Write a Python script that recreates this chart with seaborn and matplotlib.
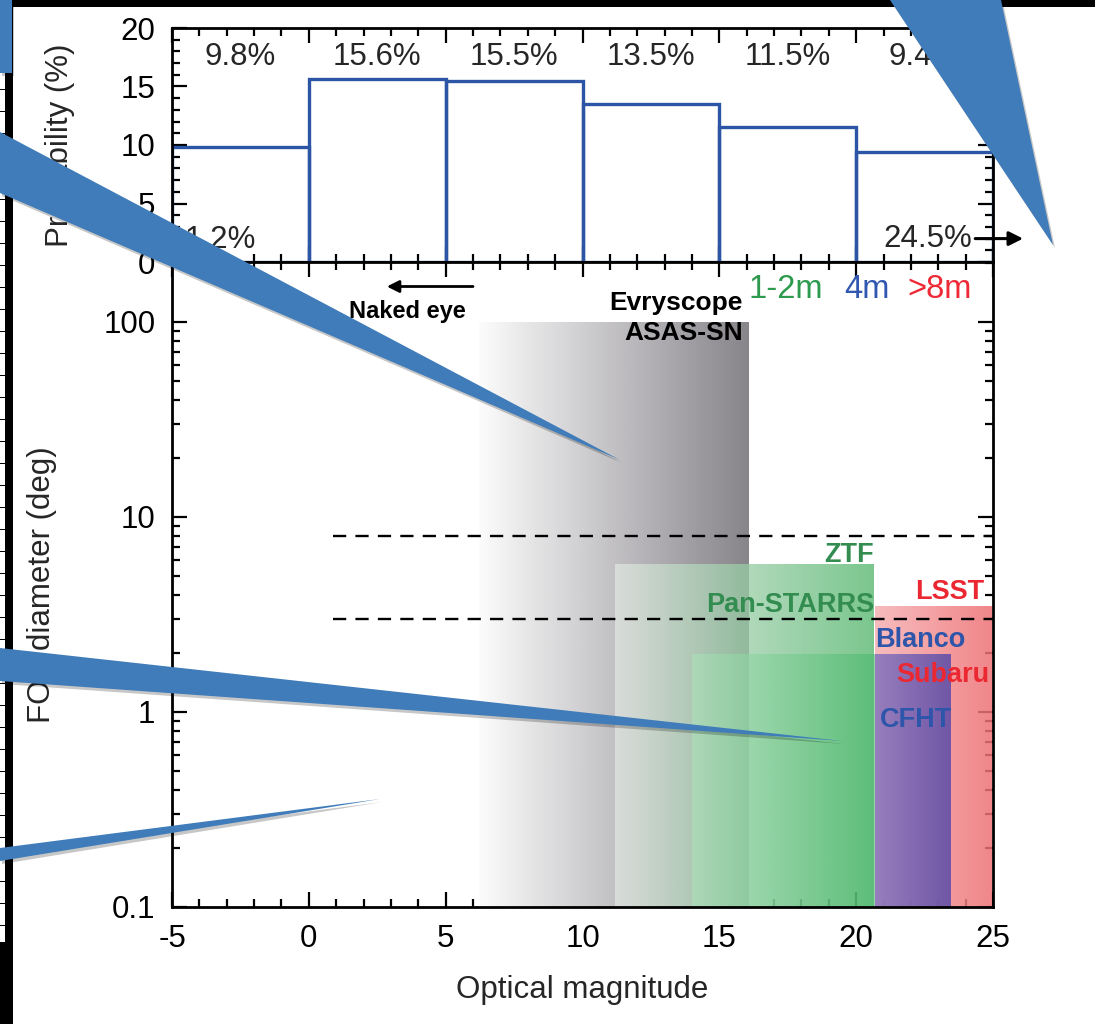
import numpy as np
import matplotlib
matplotlib.use("Agg")
import matplotlib.pyplot as plt
import seaborn as sns
from matplotlib.patches import Polygon, Rectangle
from matplotlib.ticker import MultipleLocator, LogLocator, FixedLocator, FuncFormatter, NullFormatter

# ---------------- data ----------------
# probability of a source falling in each optical-magnitude bin
bin_edges = [-5, 0, 5, 10, 15, 20, 25]
bin_probs = [9.8, 15.6, 15.5, 13.5, 11.5, 9.4]
bin_labels = ["9.8%", "15.6%", "15.5%", "13.5%", "11.5%", "9.4%"]
below_label = "1.2%"
above_label = "24.5%"

# survey coverage blocks (limiting magnitude range, FOV diameter in deg)
block_names = ["Evryscope/ASAS-SN", "ZTF", "Pan-STARRS", "LSST/Subaru", "Blanco/CFHT"]
block_mag_lo = [6.2, 11.2, 14.0, 20.7, 20.7]
block_mag_hi = [16.1, 20.7, 20.7, 25.0, 23.5]
block_fov_lo = [0.1, 0.1, 0.1, 0.1, 0.1]
block_fov_hi = [100.0, 5.8, 2.0, 3.5, 2.0]
block_color_lo = [(252, 252, 252), (226, 230, 226), (172, 226, 186), (246, 176, 178), (142, 122, 190)]
block_color_hi = [(135, 132, 138), (78, 180, 104), (74, 184, 108), (238, 112, 116), (100, 80, 166)]
block_alpha = [1.0, 0.75, 0.6, 0.85, 0.92]

# reference FOV levels
dash_levels = [8.0, 3.0]
dash_start = 0.9

# annotations on the lower panel
tel_text = ["ZTF", "Pan-STARRS", "LSST", "Blanco", "Subaru", "CFHT"]
tel_x = [20.65, 20.65, 24.68, 20.68, 24.88, 20.85]
tel_y = [6.4, 3.55, 4.1, 2.34, 1.55, 0.91]
tel_ha = ["right", "right", "right", "left", "right", "left"]
tel_color = ["#338C50", "#338C50", "#EB2832", "#2D55AA", "#EB2832", "#2D55AA"]

class_text = ["1-2m", "4m", ">8m"]
class_x = [16.08, 19.55, 21.86]
class_color = ["#2E9A4E", "#3158B0", "#EE2A36"]

hist_color = "#2C55A5"

# ---------------- style ----------------
sns.set_theme(style="ticks")
plt.rcParams["font.family"] = ["Liberation Sans", "DejaVu Sans"]
plt.rcParams["axes.linewidth"] = 2.0
plt.rcParams["axes.edgecolor"] = "black"
plt.rcParams["axes.unicode_minus"] = False
plt.rcParams["xtick.color"] = "black"
plt.rcParams["ytick.color"] = "black"

W, H = 1095, 1024
fig = plt.figure(figsize=(W / 100, H / 100), dpi=100)
fig.patch.set_facecolor("white")

ax_top = fig.add_axes([172 / W, 1 - 262 / H, 821 / W, 234 / H])
ax_bot = fig.add_axes([172 / W, 1 - 907 / H, 821 / W, 645 / H])


def style_ticks(ax):
    ax.tick_params(which="both", direction="in", top=True, right=True,
                   width=1.6, labelsize=22.5, pad=12, colors="black")
    ax.tick_params(which="major", length=11)
    ax.tick_params(which="minor", length=5.5)


# ---------------- top panel: probability histogram ----------------
centers = [(a + b) / 2 for a, b in zip(bin_edges[:-1], bin_edges[1:])]
sns.histplot(x=centers, weights=bin_probs, bins=bin_edges, element="bars",
             fill=False, color=hist_color, linewidth=2.4, ax=ax_top)
ax_top.set_xlim(-5, 25)
ax_top.set_ylim(0, 20)
ax_top.xaxis.set_major_locator(MultipleLocator(5))
ax_top.xaxis.set_minor_locator(MultipleLocator(1))
ax_top.yaxis.set_major_locator(MultipleLocator(5))
ax_top.yaxis.set_minor_locator(MultipleLocator(1))
style_ticks(ax_top)
ax_top.tick_params(labelbottom=False)
ax_top.set_xlabel("")
ax_top.set_ylabel("Probability (%)", fontsize=22.5)
ax_top.yaxis.label.set_va("center")
ax_top.yaxis.set_label_coords(-0.137, 0.5)

for c, lab in zip(centers, bin_labels):
    ax_top.text(c, 17.5, lab, ha="center", va="center", fontsize=22.5, zorder=5)
ax_top.text(-4.55, 1.9, below_label, ha="left", va="center", fontsize=22.5)
ax_top.text(24.25, 2.0, above_label, ha="right", va="center", fontsize=22.5)
ax_top.annotate("", xy=(26.1, 2.0), xytext=(24.35, 2.0), annotation_clip=False,
                arrowprops=dict(arrowstyle="-|>,head_length=0.7,head_width=0.35",
                                color="black", lw=2.2, shrinkA=0, shrinkB=0))

# ---------------- bottom panel: FOV vs magnitude ----------------
ax_bot.set_yscale("log")


def gradient_block(ax, x0, x1, y0, y1, c0, c1, alpha, z):
    t = np.linspace(0, 1, 256)[:, None]
    rgb = ((1 - t) * np.array(c0) + t * np.array(c1)) / 255.0
    rgba = np.concatenate([rgb, np.full((256, 1), alpha)], axis=1)[None, :, :]
    ax.imshow(rgba, extent=[x0, x1, y0, y1], aspect="auto", origin="lower",
              interpolation="bilinear", zorder=z)


for i in range(len(block_names)):
    gradient_block(ax_bot, block_mag_lo[i], block_mag_hi[i], block_fov_lo[i],
                   block_fov_hi[i], block_color_lo[i], block_color_hi[i],
                   block_alpha[i], 1 + i * 0.1)

ax_bot.hlines(dash_levels, dash_start, 25, colors="black", lw=1.7,
              linestyles=(0, (5.6, 3.9)), zorder=3)

ax_bot.set_xlim(-5, 25)
ax_bot.set_ylim(0.1, 203)
ax_bot.xaxis.set_major_locator(MultipleLocator(5))
ax_bot.xaxis.set_minor_locator(MultipleLocator(1))
ax_bot.yaxis.set_major_locator(FixedLocator([0.1, 1, 10, 100]))
ax_bot.yaxis.set_minor_locator(LogLocator(base=10, subs=np.arange(2, 10)))
ax_bot.yaxis.set_major_formatter(FuncFormatter(lambda v, p: f"{v:g}"))
ax_bot.yaxis.set_minor_formatter(NullFormatter())
style_ticks(ax_bot)
ax_bot.set_xlabel("Optical magnitude", fontsize=22.5)
ax_bot.xaxis.label.set_va("center")
ax_bot.xaxis.set_label_coords(0.5, -0.1287)
ax_bot.set_ylabel("FOV diameter (deg)", fontsize=22.5)
ax_bot.yaxis.label.set_va("center")
ax_bot.yaxis.set_label_coords(-0.158, 0.5)

for s, x, y, ha, col in zip(tel_text, tel_x, tel_y, tel_ha, tel_color):
    ax_bot.text(x, y, s, ha=ha, va="center", fontsize=19.5, fontweight="bold",
                color=col, zorder=6)
for s, x, col in zip(class_text, class_x, class_color):
    ax_bot.text(x, 146, s, ha="left", va="center", fontsize=23.5, color=col, zorder=6)

ax_bot.text(15.86, 125, "Evryscope", ha="right", va="center", fontsize=19,
            fontweight="bold", color="black", zorder=6)
ax_bot.text(15.86, 88, "ASAS-SN", ha="right", va="center", fontsize=19,
            fontweight="bold", color="black", zorder=6)
ax_bot.text(3.6, 113, "Naked eye", ha="center", va="center", fontsize=17,
            fontweight="bold", color="black", zorder=6)
ax_bot.annotate("", xy=(2.85, 152), xytext=(6.0, 152),
                arrowprops=dict(arrowstyle="-|>,head_length=0.6,head_width=0.3",
                                color="black", lw=2.0, shrinkA=0, shrinkB=0))

# ---------------- slide overlays ----------------
def px(points):
    return [(x / W, 1 - y / H) for x, y in points]


fig.add_artist(Rectangle((0, 1 - 7 / H), 1, 7 / H, transform=fig.transFigure,
                         facecolor="black", edgecolor="none", zorder=10))
fig.add_artist(Rectangle((5 / W, 0), 8 / W, 1, transform=fig.transFigure,
                         facecolor="black", edgecolor="none", zorder=10))
fig.add_artist(Rectangle((0, 0), 13 / W, 82 / H, transform=fig.transFigure,
                         facecolor="black", edgecolor="none", zorder=10))
for yy in range(90, 940, 22):
    fig.add_artist(Rectangle((0, 1 - yy / H), 5 / W, 1.5 / H, transform=fig.transFigure,
                             facecolor="black", edgecolor="none", zorder=10))

callout_color = "#3F7CB9"
callouts = [
    [(0, 132), (620, 460), (0, 193)],
    [(0, 648), (842, 741), (0, 681)],
    [(0, 848), (380, 799), (0, 861)],
    [(890, 0), (1053, 245), (1001, 0)],
    [(0, 0), (12, 0), (12, 73), (0, 73)],
]
for pts in callouts:
    shadow = [(x + 2, y + 3) for x, y in pts]
    fig.add_artist(Polygon(px(shadow), closed=True, transform=fig.transFigure,
                           facecolor="black", edgecolor="none", alpha=0.22, zorder=11))
    fig.add_artist(Polygon(px(pts), closed=True, transform=fig.transFigure,
                           facecolor=callout_color, edgecolor="none", zorder=12))

fig.savefig("out.png", dpi=100, facecolor="white")
